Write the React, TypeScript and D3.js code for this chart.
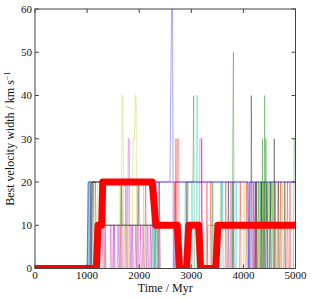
import React from "react";
import * as d3 from "d3";

const xTicks = [0, 1000, 2000, 3000, 4000, 5000];
const yTicks = [0, 10, 20, 30, 40, 50, 60];

const bestT = [0, 1180, 1210, 1280, 1300, 2250, 2320, 2730, 2775, 2910, 2950, 3140, 3180, 3470, 3510, 5000];
const bestV = [0, 0, 10, 10, 20, 20, 10, 10, 0, 0, 10, 10, 0, 0, 10, 10];

const blue1 = [[0,0],[1010,0],[1035,20],[1280,20],[1300,10],[2280,10],[2300,20],[2590,20],[2605,40],[2620,60],[2640,60],[2655,0],[2680,0],[2700,20],[4085,20],[4095,0],[4115,0],[4125,20],[5000,20]];
const green1 = [[0,0],[1000,0],[1020,20],[1300,20],[1320,10],[1640,10],[1655,20],[1670,10],[1980,10],[1995,20],[2010,10],[2330,10],[2345,0],[2365,20],[2385,20],[2400,0],[2925,0],[2940,20],[3030,20],[3045,40],[3060,0],[3300,0],[3320,10],[3560,10],[3572,20],[3585,10],[4340,10],[4350,20],[4365,10],[4420,10],[4432,30],[4445,10],[4520,10],[4535,20],[4550,10],[5000,10]];
const red1 = [[0,0],[1120,0],[1150,10],[1280,10],[1300,20],[1340,20],[1360,0],[2690,0],[2705,30],[2720,0],[2735,30],[2755,30],[2770,0],[3155,0],[3165,30],[3195,30],[3205,0],[3285,0],[3300,20],[3315,0],[3650,0],[3662,20],[3675,0],[3925,0],[3940,20],[3955,0],[4050,0],[4062,20],[4075,0],[4600,0],[4612,20],[4625,0],[4700,0],[4712,20],[4725,0],[4885,0],[4895,20],[4905,0],[5000,0]];
const cyan1 = [[0,0],[1030,0],[1060,20],[1300,20],[1320,0],[2285,0],[2300,10],[2315,0],[2995,0],[3005,20],[3020,20],[3030,0],[3095,0],[3105,40],[3120,40],[3130,0],[3585,0],[3600,20],[3615,0],[3850,0],[3862,20],[3875,0],[4500,0],[4515,20],[4530,0],[5000,0]];
const magenta1 = [[0,0],[1050,0],[1080,20],[1330,20],[1350,0],[1440,0],[1455,10],[1470,0],[1510,0],[1525,10],[1540,0],[1580,0],[1595,10],[1610,0],[1650,0],[1665,20],[1680,0],[1780,0],[1790,30],[1810,30],[1820,0],[1860,0],[1875,10],[1890,0],[1960,0],[1975,20],[1990,0],[2060,0],[2075,10],[2090,0],[2150,0],[2165,10],[2180,0],[2230,0],[2260,20],[4185,20],[4195,0],[4210,0],[4220,20],[5000,20]];
const yellow1 = [[0,0],[1090,0],[1130,20],[1300,20],[1320,10],[1655,10],[1670,40],[1690,40],[1705,0],[1720,10],[1870,10],[1885,30],[1910,30],[1925,40],[1940,40],[1955,0],[1970,10],[2350,10],[2370,0],[4290,0],[4305,20],[4320,0],[4460,0],[4475,20],[4490,0],[4730,0],[4745,20],[4760,0],[5000,0]];
const black1 = [[0,0],[1060,0],[1090,20],[1300,20],[1320,10],[2360,10],[2380,0],[3790,0],[3802,20],[3815,0],[4140,0],[4152,40],[4168,0],[4580,0],[4592,30],[4605,0],[4660,0],[4672,20],[4685,0],[5000,0]];
const blue2 = [[0,0],[1000,0],[1020,20],[1060,20],[1080,0],[2300,0],[2330,20],[4090,20],[4105,0],[4120,20],[4440,20],[4455,0],[4470,20],[5000,20]];
const green2 = [[0,0],[1040,0],[1070,20],[1120,20],[1140,0],[2250,0],[2265,20],[2280,0],[3400,0],[3412,20],[3425,0],[3785,0],[3795,30],[3808,50],[3822,0],[4230,0],[4242,20],[4255,0],[4270,0],[4285,20],[4300,0],[4355,0],[4365,30],[4375,0],[4395,0],[4408,40],[4420,0],[4450,20],[4470,0],[4960,0],[4975,30],[4995,30],[5010,0]];
const red2 = [[0,0],[1150,0],[1200,10],[1320,10],[1340,0],[2660,0],[2680,20],[2700,0],[3360,0],[3375,20],[3390,0],[4220,0],[4235,20],[4250,0],[4830,0],[4845,20],[4860,0],[5000,0]];
const cyan2 = [[0,0],[1015,0],[1045,20],[1080,20],[1100,0],[2290,0],[2305,10],[2320,0],[2870,0],[2885,20],[2900,0],[4310,0],[4325,20],[4340,0],[4550,0],[4565,20],[4580,0],[5000,0]];
const magenta2 = [[0,0],[1070,0],[1100,20],[1280,20],[1300,0],[1490,0],[1505,10],[1520,0],[1620,0],[1635,10],[1650,0],[1730,0],[1745,20],[1760,0],[1830,0],[1845,10],[1860,0],[1920,0],[1935,10],[1950,0],[2010,0],[2025,10],[2040,0],[2110,0],[2125,20],[2140,0],[2200,0],[2215,10],[2230,0],[2370,0],[2385,20],[2400,0],[3190,0],[3200,30],[3215,0],[3750,0],[3762,20],[3775,0],[4180,0],[4195,20],[4210,0],[5000,0]];
const yellow2 = [[0,0],[1120,0],[1150,20],[1200,20],[1220,0],[1620,0],[1635,20],[1650,0],[1760,0],[1775,20],[1790,0],[2070,0],[2085,20],[2100,0],[4000,0],[4015,20],[4030,0],[4350,0],[4362,20],[4375,0],[4540,0],[4555,20],[4570,0],[4640,0],[4652,20],[4665,0],[5000,0]];
const black2 = [[0,0],[1080,0],[1110,20],[1160,20],[1180,0],[2900,0],[2915,20],[2930,0],[3700,0],[3712,20],[3725,0],[4230,0],[4245,20],[4260,0],[4330,0],[4342,20],[4355,0],[4380,0],[4395,20],[4410,0],[4500,0],[4515,20],[4530,0],[4780,0],[4795,20],[4810,0],[5000,0]];

const runs = [blue1, green1, red1, cyan1, magenta1, yellow1, black1, blue2, green2, red2, cyan2, magenta2, yellow2, black2];
const runColors = ["#0000ff", "#008000", "#ff0000", "#00bfbf", "#bf00bf", "#bfbf00", "#000000"];

const W = 312, H = 300;
const L = 35, R = 295.5, T = 9, B = 268.5;

export default function App() {
  const x = d3.scaleLinear().domain([0, 5000]).range([L, R]);
  const y = d3.scaleLinear().domain([0, 60]).range([B, T]);
  const line = d3.line<number[]>().x(d => x(d[0])).y(d => y(d[1]));
  const best = bestT.map((t, i) => [t, bestV[i]]);
  const font = "'Liberation Serif', 'DejaVu Serif', serif";
  const axisColor = "#444";
  return (
    <svg width={W} height={H} style={{ position: "absolute", left: 0, top: 0, background: "#fff" }} fontFamily={font}>
      <defs>
        <clipPath id="plot"><rect x={L} y={T} width={R - L} height={B - T} /></clipPath>
      </defs>
      <g clipPath="url(#plot)">
        {runs.map((r, i) => (
          <path key={i} d={line(r) || ""} fill="none" stroke={runColors[i % 7]} strokeOpacity={0.5} strokeWidth={0.7} />
        ))}
        <path d={line(best) || ""} fill="none" stroke="#ff0000" strokeWidth={7} strokeLinejoin="round" strokeLinecap="round" />
      </g>
      <rect x={L} y={T} width={R - L} height={B - T} fill="none" stroke={axisColor} strokeWidth={1} />
      {xTicks.map(t => (
        <g key={"x" + t}>
          <line x1={x(t)} x2={x(t)} y1={B} y2={B - 4} stroke={axisColor} />
          <line x1={x(t)} x2={x(t)} y1={T} y2={T + 4} stroke={axisColor} />
          <text x={x(t)} y={B + 10.5} fontSize={11} textAnchor="middle" fill="#111">{t}</text>
        </g>
      ))}
      {yTicks.map(v => (
        <g key={"y" + v}>
          <line x1={L} x2={L + 4} y1={y(v)} y2={y(v)} stroke={axisColor} />
          <line x1={R} x2={R - 4} y1={y(v)} y2={y(v)} stroke={axisColor} />
          <text x={L - 3} y={y(v) + 3.8} fontSize={11} textAnchor="end" fill="#111">{v}</text>
        </g>
      ))}
      <text x={(L + R) / 2} y={291.5} fontSize={12} textAnchor="middle" fill="#111">Time / Myr</text>
      <text transform={`translate(14, ${(T + B) / 2}) rotate(-90)`} fontSize={12} textAnchor="middle" fill="#111">
        Best velocity width / km s<tspan dy={-4} fontSize={8}>−1</tspan>
      </text>
    </svg>
  );
}
